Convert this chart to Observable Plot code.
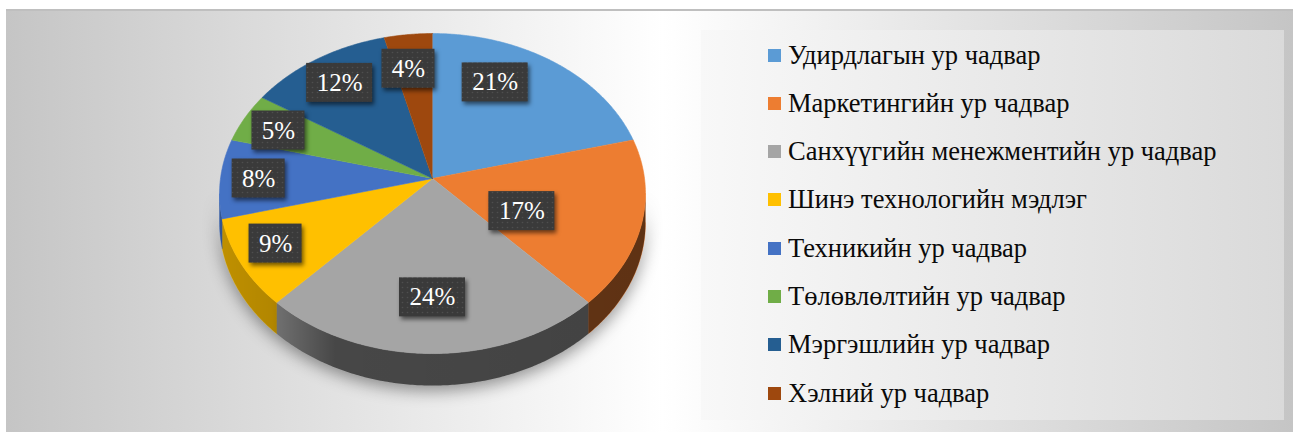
<!DOCTYPE html>
<html><head><meta charset="utf-8">
<script src="https://cdn.jsdelivr.net/npm/d3@7"></script>
<script src="https://cdn.jsdelivr.net/npm/@observablehq/plot@0.6"></script>
<style>
html,body{margin:0;padding:0;width:1293px;height:432px;overflow:hidden;background:#fff;}
#panel{position:absolute;left:6px;top:9px;width:1287px;height:423px;background:linear-gradient(to right,#c5c5c5 0%,#ffffff 51%,#c5c5c5 100%);border-top:2px solid #bfbfbf;box-sizing:border-box;}
#chart{position:absolute;left:0;top:0;}
#legend{position:absolute;left:701px;top:30px;width:583px;height:390px;background:linear-gradient(to right,#f8f8f8,#dadada);}
.item{position:absolute;left:67px;height:32px;display:flex;align-items:center;font-family:"Liberation Serif","Times New Roman",serif;font-size:26.5px;color:#0a0a0a;white-space:nowrap;}
.sw{width:13px;height:13px;margin-right:7px;flex:none;}
</style></head><body>
<div id="panel"></div>
<div id="legend"></div>
<div id="chart"></div>
<script>
// ---- data ----
const categories = [
  "Удирдлагын ур чадвар",
  "Маркетингийн ур чадвар",
  "Санхүүгийн менежментийн ур чадвар",
  "Шинэ технологийн мэдлэг",
  "Техникийн ур чадвар",
  "Төлөвлөлтийн ур чадвар",
  "Мэргэшлийн ур чадвар",
  "Хэлний ур чадвар"
];
const shares = [21, 17, 24, 9, 8, 5, 12, 4];
const colors = ["#5B9BD5", "#ED7D31", "#A5A5A5", "#FFC000", "#4472C4", "#70AD47", "#255E91", "#9E480E"];

// ---- layout (label placement like Excel's best fit) ----
const labelRadius = [0.715, 0.46, 0.70, 0.815, 0.82, 0.81, 0.79, 0.75];
const labelTurn = [-11.8, 9.8, 0, 1.6, 0, -0.8, 0, -2.1];

// perspective pie geometry (units = px offsets from the pie apex)
const S = 212, A = 158.6, C = 0.094, H = 29;
function proj(theta, r, drop = 0) {
  const u = r * Math.sin(theta), v = r * Math.cos(theta);
  const den = 1 + C * v;
  return [S * u / den, (A * v - drop) / den];
}

const rows = categories.map((name, i) => ({name, share: shares[i]}));
const arcs = d3.pie().sort(null).value(d => d.share)(rows);

const topFace = [];
arcs.forEach(a => {
  const name = a.data.name;
  topFace.push({name, x: 0, y: 0});
  const n = Math.max(2, Math.ceil((a.endAngle - a.startAngle) / 0.01));
  for (let i = 0; i <= n; i++) {
    const t = a.startAngle + (a.endAngle - a.startAngle) * i / n;
    const [x, y] = proj(t, 1);
    topFace.push({name, x, y});
  }
});

const sides = [];
const t0 = Math.acos(-C), t1 = 2 * Math.PI - t0;
arcs.forEach(a => {
  const s = Math.max(a.startAngle, t0), e = Math.min(a.endAngle, t1);
  if (e <= s) return;
  const name = a.data.name;
  const n = Math.max(2, Math.ceil((e - s) / 0.01));
  for (let i = 0; i <= n; i++) {
    const t = s + (e - s) * i / n;
    const [x, y] = proj(t, 1);
    sides.push({name, x, y});
  }
  for (let i = n; i >= 0; i--) {
    const t = s + (e - s) * i / n;
    const [x, y] = proj(t, 1, H);
    sides.push({name, x, y});
  }
});

const labels = arcs.map((a, i) => {
  const mid = (a.startAngle + a.endAngle) / 2 + labelTurn[i] * Math.PI / 180;
  const [x, y] = proj(mid, labelRadius[i]);
  const w = 40 + 13 * String(a.data.share).length;
  return {text: a.data.share + "%", x, y, x1: x - w / 2, x2: x + w / 2, y1: y - 19.5, y2: y + 19.5};
});

function defs() {
  const d = d3.create("svg:defs");
  const g = d.append("linearGradient").attr("id", "sideShade")
    .attr("gradientUnits", "userSpaceOnUse").attr("x1", 220).attr("x2", 645).attr("y1", 0).attr("y2", 0);
  [[0, 0.25], [0.12, 0.3], [0.27, 0.57], [1, 0.6]].forEach(([o, op]) =>
    g.append("stop").attr("offset", o).attr("stop-color", "#000").attr("stop-opacity", op));
  const p = d.append("pattern").attr("id", "dots").attr("patternUnits", "userSpaceOnUse")
    .attr("width", 5).attr("height", 5);
  p.append("rect").attr("width", 5).attr("height", 5).attr("fill", "#3a3a3a");
  p.append("circle").attr("cx", 2.5).attr("cy", 2.5).attr("r", 0.8).attr("fill", "#4e4e4e");
  return d.node();
}

const plot = Plot.plot({
  width: 700, height: 432, margin: 0,
  x: {domain: [-432, 268], axis: null},
  y: {domain: [-254, 178], axis: null},
  color: {domain: categories, range: colors},
  style: {background: "transparent", overflow: "visible"},
  marks: [
    defs,
    Plot.line(sides, {x: "x", y: "y", z: "name", fill: "name", stroke: "name", strokeWidth: 0.5, ariaDescription: "pie-side"}),
    Plot.line(sides, {x: "x", y: "y", z: "name", fill: "url(#sideShade)", stroke: "none"}),
    Plot.line(topFace, {x: "x", y: "y", z: "name", fill: "name", stroke: "name", strokeWidth: 0.6}),
    Plot.rect(labels, {x1: "x1", x2: "x2", y1: "y1", y2: "y2", fill: "url(#dots)", ariaDescription: "label-box"}),
    Plot.text(labels, {x: "x", y: "y", text: "text", fill: "white", fontSize: 25, fontFamily: "Liberation Serif, Times New Roman, serif"})
  ]
});
d3.select(plot).select('g[aria-description="pie-side"]').style("filter", "drop-shadow(0px 5px 8px rgba(0,0,0,0.4))");
d3.select(plot).select('g[aria-description="label-box"]').style("filter", "drop-shadow(2px 3px 2px rgba(0,0,0,0.55))");
document.getElementById("chart").appendChild(plot);

// legend
const legend = document.getElementById("legend");
categories.forEach((name, i) => {
  const item = document.createElement("div");
  item.className = "item";
  item.style.top = (25 + 48.3 * i - 16) + "px";
  const sw = document.createElement("span");
  sw.className = "sw";
  sw.style.background = colors[i];
  const tx = document.createElement("span");
  tx.textContent = name;
  item.appendChild(sw); item.appendChild(tx);
  legend.appendChild(item);
});
</script>
</body></html>
